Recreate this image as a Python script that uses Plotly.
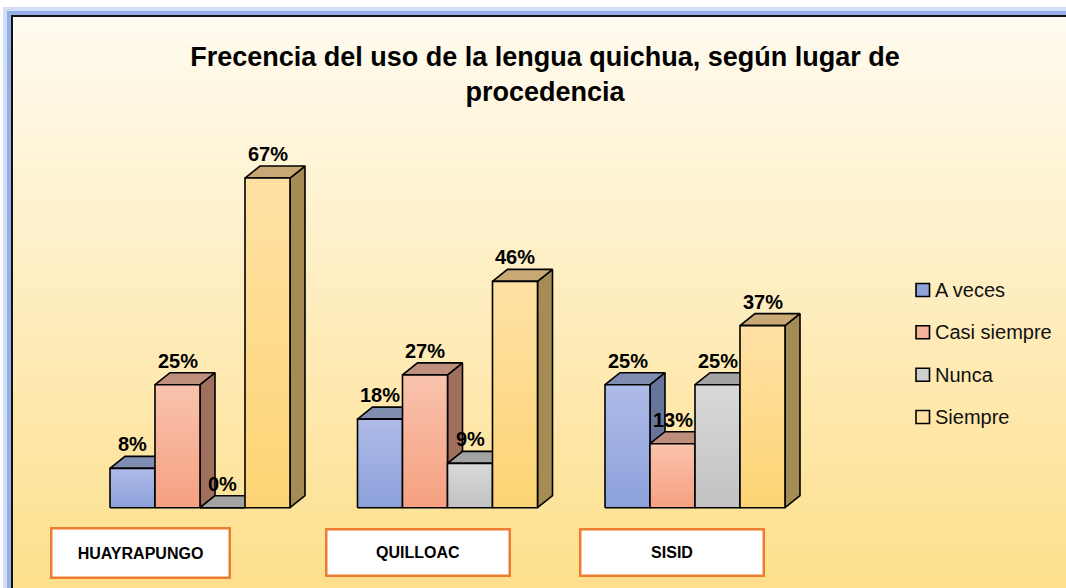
import plotly.graph_objects as go

# ---------------- data ----------------
places = ["HUAYRAPUNGO", "QUILLOAC", "SISID"]
series = ["A veces", "Casi siempre", "Nunca", "Siempre"]
a_veces = [8, 18, 25]
casi_siempre = [25, 27, 13]
nunca = [0, 9, 25]
siempre = [67, 46, 37]
values = [a_veces, casi_siempre, nunca, siempre]

title_text = "Frecencia del uso de la lengua quichua, según lugar de<br>procedencia"

# ---------------- styling / layout constants ----------------
W, H = 1066, 588
FONT = "Liberation Sans, Arial, sans-serif"

# colours per series: (front bottom, front top, top face, side face, legend)
colors = [
    ("#8CA1DB", "#AFBBE8", "#7F8DB1", "#66759B", "#8EA2D8"),
    ("#F6A081", "#F9C3AD", "#BE8F7D", "#A0705F", "#F5B199"),
    ("#C2C2C2", "#D9D9D9", "#A3A3A3", "#8C8C8C", "#CFCFCF"),
    ("#FDD474", "#FFE1A5", "#C8A975", "#A58C55", "#FFE0A3"),
]

GROUP_STEP_PX = 247.5      # pixel distance between groups
BAR_W_PX = 45.0            # front width of a bar
GROUP0_CENTER_PX = 200.0   # pixel x of the first group's centre
BASE_PX = 507.7            # pixel y of the baseline
PX_PER_PCT = 4.92          # pixels per percentage point
DEPTH_X_PX, DEPTH_Y_PX = 15.0, 12.0

# axis ranges so that margins are 0 and data map onto the picture
x_range = [-GROUP0_CENTER_PX / GROUP_STEP_PX, (W - GROUP0_CENTER_PX) / GROUP_STEP_PX]
y_range = [-(H - BASE_PX) / PX_PER_PCT, BASE_PX / PX_PER_PCT]
bw = BAR_W_PX / GROUP_STEP_PX
dx = DEPTH_X_PX / GROUP_STEP_PX
dy = DEPTH_Y_PX / PX_PER_PCT


def px(x):
    return x / W


def py(y):
    return 1 - y / H


fig = go.Figure()
outline = dict(color="black", width=1.6)

annotations = []
for i, place in enumerate(places):
    for j, name in enumerate(series):
        v = values[j][i]
        x0 = i + (j - 2) * bw
        x1 = x0 + bw
        fb, ft, ctop, cside, _ = colors[j]
        # side face
        fig.add_trace(go.Scatter(
            x=[x1, x1 + dx, x1 + dx, x1, x1],
            y=[0, dy, v + dy, v, 0],
            mode="lines", fill="toself", fillcolor=cside, line=outline,
            hoverinfo="skip", showlegend=False))
        # top face
        fig.add_trace(go.Scatter(
            x=[x0, x1, x1 + dx, x0 + dx, x0],
            y=[v, v, v + dy, v + dy, v],
            mode="lines", fill="toself", fillcolor=ctop, line=outline,
            hoverinfo="skip", showlegend=False))
        # front face
        fig.add_trace(go.Scatter(
            x=[x0, x1, x1, x0, x0],
            y=[0, 0, v, v, 0],
            mode="lines", fill="toself", fillcolor=ft,
            fillgradient=dict(type="vertical", colorscale=[[0, fb], [1, ft]]),
            line=outline, name=name, hovertemplate=f"{place}<br>{name}: {v}%<extra></extra>",
            showlegend=False))
        annotations.append(dict(
            x=(x0 + x1) / 2, y=v + dy, xref="x", yref="y",
            text=f"<b>{v}%</b>", showarrow=False, xanchor="center", yanchor="bottom",
            yshift=-1,
            font=dict(family=FONT, size=20, color="black")))

# ---------------- background + frame ----------------
shapes = []


def hex2rgb(h):
    h = h.lstrip("#")
    return tuple(int(h[k:k + 2], 16) for k in (0, 2, 4))


top_c, bot_c = hex2rgb("#FFFBF0"), hex2rgb("#FDDF8C")
N = 100
y_top, y_bot = 16, H
for k in range(N):
    t = (k + 0.5) / N
    c = tuple(round(top_c[m] + (bot_c[m] - top_c[m]) * t) for m in range(3))
    ya = y_top + (y_bot - y_top) * k / N
    yb = y_top + (y_bot - y_top) * (k + 1) / N + 0.6
    shapes.append(dict(type="rect", xref="paper", yref="paper", layer="below",
                       x0=px(12), x1=px(W + 5), y0=py(ya), y1=py(yb),
                       fillcolor="rgb(%d,%d,%d)" % c, line=dict(width=0)))

# blue glow around the frame
for off, wdt, col in [(6, 6, "rgba(180,200,240,0.6)"), (3, 4, "rgba(140,168,230,0.9)")]:
    shapes.append(dict(type="rect", xref="paper", yref="paper", layer="below",
                       x0=px(12 - off), x1=px(W + 40), y0=py(16 - off), y1=py(H + 40),
                       line=dict(color=col, width=wdt), fillcolor="rgba(0,0,0,0)"))
shapes.append(dict(type="rect", xref="paper", yref="paper", layer="above",
                   x0=px(12), x1=px(W + 40), y0=py(16), y1=py(H + 40),
                   line=dict(color="#111111", width=2), fillcolor="rgba(0,0,0,0)"))

# ---------------- legend (manual) ----------------
legend_rows_px = [290, 332.3, 374.7, 417]
for j, name in enumerate(series):
    yc = legend_rows_px[j]
    shapes.append(dict(type="rect", xref="paper", yref="paper", layer="above",
                       x0=px(916), x1=px(929.5), y0=py(yc - 6.5), y1=py(yc + 6.5),
                       fillcolor=colors[j][4], line=dict(color="black", width=1.6)))
    annotations.append(dict(x=px(933), y=py(yc), xref="paper", yref="paper",
                            text=name, showarrow=False, xanchor="left", yanchor="middle",
                            font=dict(family=FONT, size=20, color="#111111")))

# ---------------- category label boxes ----------------
box_centers_px = [(140, 552.5), (417.5, 552.5), (671.7, 552)]
box_sizes_px = [(176, 47), (181, 44), (181, 44)]
for place, (cx, cy), (bwid, bhei) in zip(places, box_centers_px, box_sizes_px):
    annotations.append(dict(x=px(cx), y=py(cy), xref="paper", yref="paper",
                            text=f"<b>{place}</b>", showarrow=False,
                            xanchor="center", yanchor="middle",
                            width=bwid, height=bhei, bgcolor="white",
                            bordercolor="#ED7D31", borderwidth=2.5, borderpad=0,
                            font=dict(family=FONT, size=16, color="black")))

fig.update_layout(
    width=W, height=H, autosize=False,
    margin=dict(l=0, r=0, t=0, b=0, pad=0),
    paper_bgcolor="white", plot_bgcolor="rgba(0,0,0,0)",
    xaxis=dict(range=x_range, visible=False, fixedrange=True),
    yaxis=dict(range=y_range, visible=False, fixedrange=True),
    title=dict(text=f"<b>{title_text}</b>", x=545 / W, xanchor="center",
               y=py(66), yanchor="top", xref="paper", yref="container",
               font=dict(family=FONT, size=27, color="black")),
    shapes=shapes, annotations=annotations, showlegend=False,
)

fig.write_html("out.html", config={"displayModeBar": False},
               post_script="document.body.style.margin='0';document.body.style.overflow='hidden';")
